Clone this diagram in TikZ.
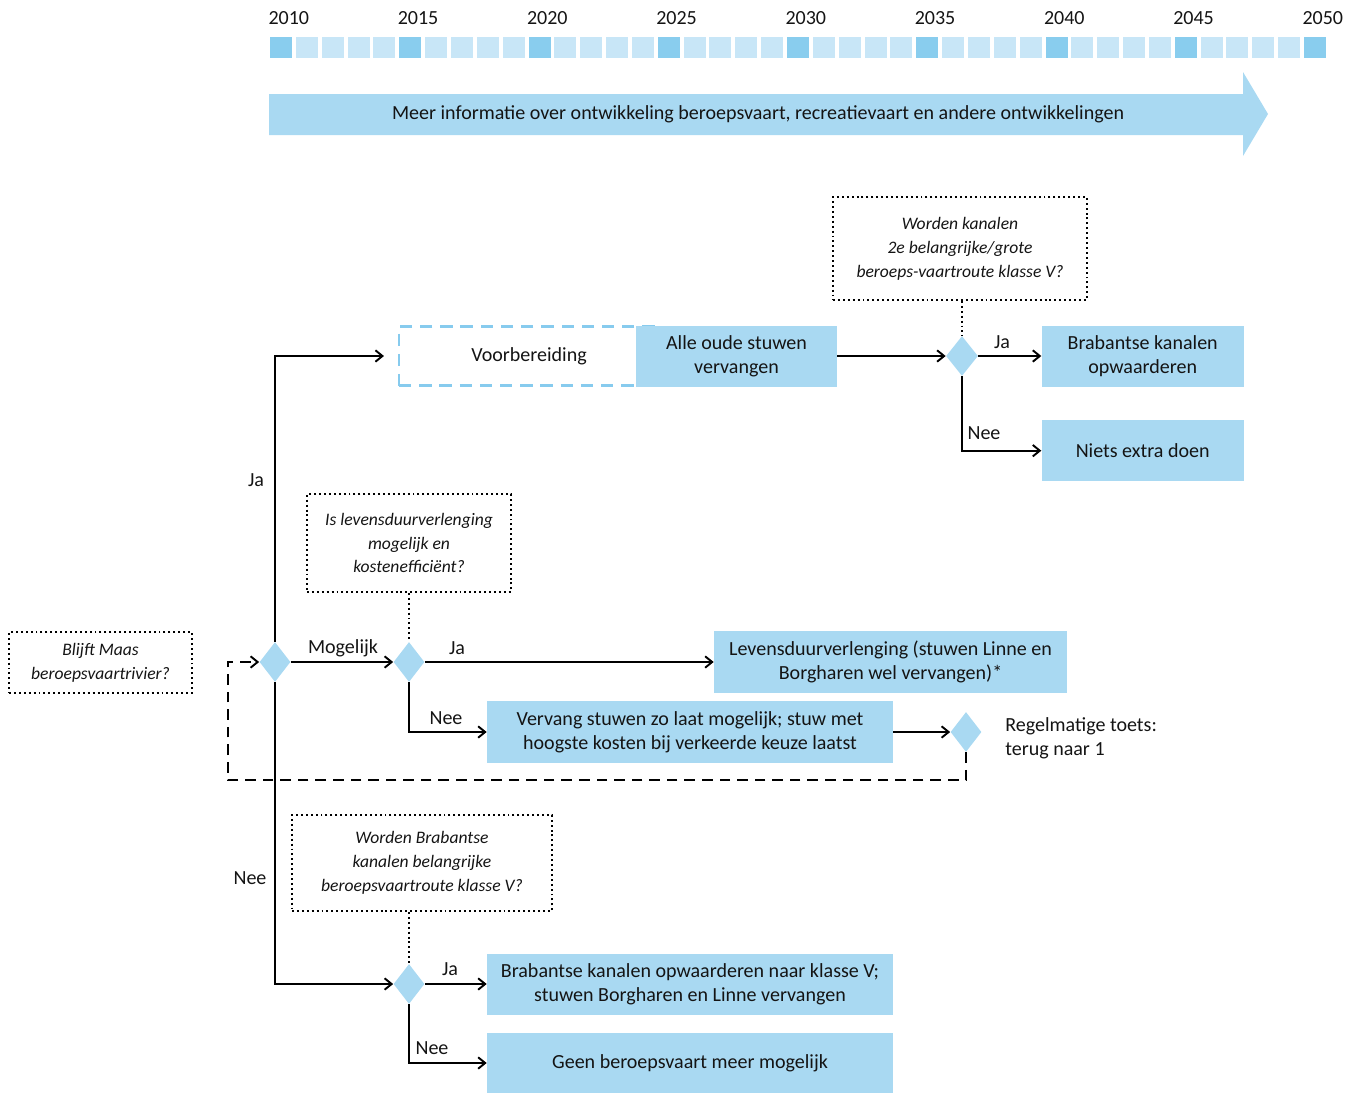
\documentclass[tikz,border=0pt]{standalone}
\usepackage{fontspec}
\setmainfont{Carlito}
\usepackage{tikz}
\usetikzlibrary{arrows.meta, positioning, calc, shapes.geometric}
\definecolor{boxblue}{RGB}{169,217,242}
\definecolor{darkcell}{RGB}{137,205,238}
\definecolor{lightcell}{RGB}{200,230,247}
\definecolor{dashblue}{RGB}{135,203,238}
\definecolor{inkgray}{RGB}{20,20,20}

\begin{document}
\begin{tikzpicture}[
    x=0.02cm, y=-0.02cm,
    font=\fontsize{11.4}{13.6}\selectfont, text=inkgray,
    action/.style={rectangle, fill=boxblue, align=center, inner sep=0pt, minimum width=4.04cm, minimum height=1.22cm},
    question/.style={rectangle, draw=black, line width=1.1pt, dash pattern=on 1.1pt off 1.7pt, align=center, inner sep=0pt, font=\fontsize{10}{13.6}\selectfont\itshape},
    choice/.style={diamond, fill=boxblue, inner sep=0pt, minimum width=0.62cm, minimum height=0.8cm},
    cell/.style={rectangle, inner sep=0pt, minimum width=0.44cm, minimum height=0.42cm, fill=lightcell},
    year/.style={inner sep=0pt, anchor=south west},
    flow/.style={-{Straight Barb[length=4pt, width=6.5pt]}, line width=1.1pt},
    link/.style={line width=1.1pt, dash pattern=on 1.1pt off 1.7pt},
    lbl/.style={inner sep=0pt}
]
    \useasboundingbox (0,0) rectangle (1356,1093);

    % ============================================================
    % TIMELINE
    % ============================================================
    \foreach \i in {0,...,40} {
        \pgfmathtruncatemacro{\r}{mod(\i,5)}
        \ifnum\r=0
            \node[cell, fill=darkcell] (cell\i) at ({281+25.85*\i},47) {};
        \else
            \node[cell] (cell\i) at ({281+25.85*\i},47) {};
        \fi
    }
    \foreach \y [count=\k from 0] in {2010,2015,...,2050} {
        \pgfmathtruncatemacro{\c}{5*\k}
        \node[year, above=0.22cm of cell\c.north west, anchor=south west, xshift=-0.03cm] (year\y) {\y};
    }

    % big arrow
    \fill[boxblue] (269,94) -- (1243,94) -- (1243,72) -- (1268,114) -- (1243,156) -- (1243,135) -- (269,135) -- cycle;
    \node[lbl] (info) at (758,114) {Meer informatie over ontwikkeling beroepsvaart, recreatievaart en andere ontwikkelingen};

    % ============================================================
    % START
    % ============================================================
    \node[question, minimum width=3.66cm, minimum height=1.22cm] (maas) at (100.5,662.5) {Blijft Maas\\beroepsvaartrivier?};
    \node[choice] (q1) at (275,662) {};

    % ============================================================
    % JA: VERVANGEN
    % ============================================================
    \node[rectangle, draw=dashblue, line width=1.2pt, dash pattern=on 7pt off 4.5pt, minimum width=5.2cm, minimum height=1.18cm] (voorb) at (529,356) {Voorbereiding};
    \node[action, minimum width=4.02cm] (alle) at (736.5,356) {Alle oude stuwen\\vervangen};

    \node[question, minimum width=5.08cm, minimum height=2.06cm] (vraag4) at (960,248.5) {Worden kanalen\\2e belangrijke/grote\\beroeps-vaartroute klasse V?};
    \node[choice, minimum width=0.64cm] (q4) at (962,356) {};
    \node[action, right=1.26cm of q4] (opw) {Brabantse kanalen\\opwaarderen};
    \node[action, below=0.66cm of opw] (niets) {Niets extra doen};

    \draw[flow] (q1.north) |- ([xshift=-0.28cm]voorb.west);
    \draw[flow] (alle.east) -- (q4.west);
    \draw[link] (vraag4.south -| q4.north) -- (q4.north);
    \draw[flow] (q4.east) -- (opw.west);
    \draw[flow] (q4.south) |- (niets.west);

    \node[lbl] (ja1) at (256,480) {Ja};
    \node[lbl] (ja4) at (1002,342) {Ja};
    \node[lbl] (nee4) at (984,433) {Nee};

    % ============================================================
    % MOGELIJK: LEVENSDUURVERLENGING
    % ============================================================
    \node[question, minimum width=4.08cm, minimum height=1.96cm] (vraag2) at (409,543) {Is levensduurverlenging\\mogelijk en\\kostenefficiënt?};
    \node[choice] (q2) at (409,662) {};
    \node[action, minimum width=7.06cm, minimum height=1.24cm] (leven) at (890.5,662) {Levensduurverlenging (stuwen Linne en\\Borgharen wel vervangen)*};
    \node[action, minimum width=8.12cm, minimum height=1.24cm] (vervang) at (690,732) {Vervang stuwen zo laat mogelijk; stuw met\\hoogste kosten bij verkeerde keuze laatst};
    \node[choice] (qr) at (966,732) {};
    \node[lbl, align=left, anchor=west] (regel) at (1005,738) {Regelmatige toets:\\terug naar 1};

    \draw[flow] (q1.east) -- (q2.west);
    \draw[link] (vraag2.south) -- (q2.north);
    \draw[flow] (q2.east) -- (leven.west);
    \draw[flow] (q2.south) |- (vervang.west);
    \draw[flow] (vervang.east) -- (qr.west);

    % terug naar 1
    \coordinate (retour) at (228,780);
    \draw[flow, dash pattern=on 6pt off 4pt] (qr.south) |- (retour) -- (retour |- q1.west) -- (q1.west);

    \node[lbl] (mog) at (343,648) {Mogelijk};
    \node[lbl] (ja2) at (457,648) {Ja};
    \node[lbl] (nee2) at (446,718) {Nee};

    % ============================================================
    % NEE: GEEN BEROEPSVAART
    % ============================================================
    \node[question, minimum width=5.2cm, minimum height=1.92cm] (vraag3) at (422,863) {Worden Brabantse\\kanalen belangrijke\\beroepsvaartroute klasse V?};
    \node[choice] (q3) at (409,984) {};
    \node[action, minimum width=8.12cm, minimum height=1.22cm] (kanV) at (690,984) {Brabantse kanalen opwaarderen naar klasse V;\\stuwen Borgharen en Linne vervangen};
    \node[action, minimum width=8.12cm, minimum height=1.2cm] (geen) at (690,1063) {Geen beroepsvaart meer mogelijk};

    \draw[flow] (q1.south) |- (q3.west);
    \draw[link] (vraag3.south -| q3.north) -- (q3.north);
    \draw[flow] (q3.east) -- (kanV.west);
    \draw[flow] (q3.south) |- (geen.west);

    \node[lbl] (nee1) at (250,878) {Nee};
    \node[lbl] (ja3) at (450,969) {Ja};
    \node[lbl] (nee3) at (432,1048) {Nee};

\end{tikzpicture}
\end{document}
